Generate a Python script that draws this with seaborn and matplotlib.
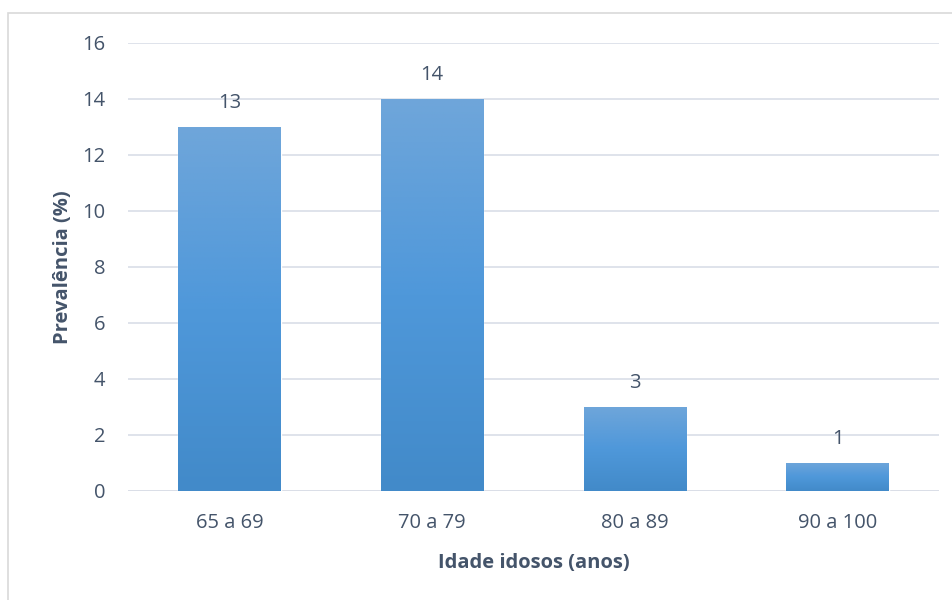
import matplotlib
matplotlib.use("Agg")
import matplotlib.pyplot as plt
from matplotlib.colors import LinearSegmentedColormap
from matplotlib.patches import Rectangle
import numpy as np
import pandas as pd
import seaborn as sns

categories = ["65 a 69", "70 a 79", "80 a 89", "90 a 100"]
values = [13, 14, 3, 1]
yticks = [0, 2, 4, 6, 8, 10, 12, 14, 16]

sns.set_theme(style="white")
plt.rcParams['font.family'] = ['Open Sans', 'DejaVu Sans']
text_color = "#44546A"
fs = 14.5

fig = plt.figure(figsize=(9.52, 6.0), dpi=100)
ax = fig.add_axes([128/952, 1 - 491/600, (939-128)/952, (491-43)/600])

df = pd.DataFrame({"cat": categories, "val": values})
sns.barplot(data=df, x="cat", y="val", ax=ax, color="#5B9BD5", width=0.505,
            saturation=1, zorder=2)

ax.set_ylim(0, 16)
ax.set_xlim(-0.5, 3.5)
ax.set_yticks(yticks)
ax.yaxis.grid(True, color="#D9DEE7", linewidth=1.2, zorder=0)
ax.set_axisbelow(True)
for s in ax.spines.values():
    s.set_visible(False)
ax.axhline(0, color="#D9DEE7", linewidth=1.2, zorder=1)

cmap = LinearSegmentedColormap.from_list("g", ["#428AC9", "#4F98DA", "#6FA6DA"])
grad = np.linspace(0, 1, 256).reshape(-1, 1)
for p in list(ax.patches):
    x0, y0 = p.get_x(), p.get_y()
    w, h = p.get_width(), p.get_height()
    im = ax.imshow(grad, cmap=cmap, aspect="auto", origin="lower",
                   extent=[x0, x0 + w, y0, y0 + h], zorder=3)
    im.set_clip_path(p)
    p.set_facecolor("none")
    ax.text(x0 + w/2, y0 + h + 0.5, f"{int(h)}", ha="center", va="bottom",
            fontsize=fs, color=text_color, zorder=4)

ax.set_xlim(-0.5, 3.5)
ax.set_ylim(0, 16)
ax.tick_params(axis="both", length=0, labelsize=fs, colors=text_color)
ax.tick_params(axis="y", pad=16.5)
ax.tick_params(axis="x", pad=15.5)
ax.set_xlabel("Idade idosos (anos)", fontsize=fs, fontweight="bold",
              color=text_color, labelpad=15)
ax.set_ylabel("Prevalência (%)", fontsize=fs, fontweight="bold",
              color=text_color, labelpad=6.5)

fig.patches.append(Rectangle((8/952, -0.1), 1.2, 1 - 13/600 + 0.1,
                             transform=fig.transFigure, fill=False,
                             edgecolor="#D9D9D9", linewidth=1.2))

fig.savefig("out.png", dpi=100)
